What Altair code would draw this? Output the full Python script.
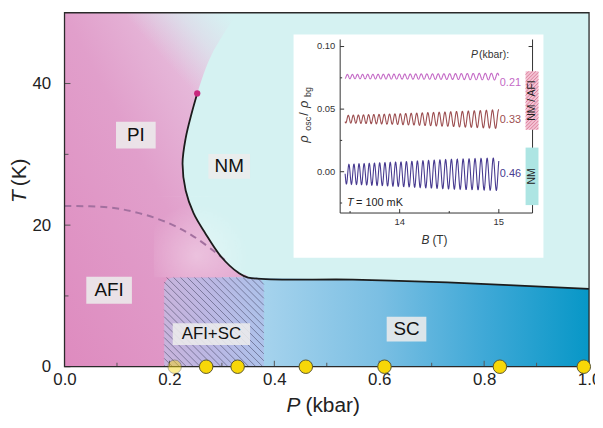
import altair as alt
import numpy as np
import pandas as pd

# ======================= values =======================
P_DOMAIN = [0.0, 1.0]
T_DOMAIN = [0.0, 50.0]
P_TICKS = [0.0, 0.2, 0.4, 0.6, 0.8, 1.0]
P_MINOR = [0.1, 0.3, 0.5, 0.7, 0.9]
T_TICKS = [0, 20, 40]
T_MINOR = [10, 30]

# solid phase boundary (P kbar, T K), from the end point down and to the right
BND_P = [0.253, 0.242, 0.231, 0.225, 0.231, 0.246, 0.268, 0.299, 0.331, 0.350, 0.55, 0.73, 1.0]
BND_T = [38.6, 35.7, 32.3, 28.7, 24.9, 21.7, 18.9, 15.5, 13.3, 12.6, 12.3, 11.9, 11.0]
# fuzzy PI / NM border above the end point
PI_TOP_P = [0.28, 0.33]
PI_TOP_T = [44.0, 50.0]
PI_FOOT_P = 0.30

# dashed AFI line
DASH_P = [0.0, 0.085, 0.142, 0.198, 0.242, 0.287, 0.31]
DASH_T = [22.7, 22.5, 21.7, 20.3, 18.6, 16.2, 14.8]

# AFI+SC coexistence box
AFISC_P = [0.19, 0.38]
AFISC_T = [0.0, 12.6]

# measured pressures (yellow dots)
MEAS_P = [0.21, 0.27, 0.33, 0.46, 0.61, 0.83, 0.99]
MEAS_ALPHA = [0.45, 1, 1, 1, 1, 1, 1]

REGION_LABELS = ["PI", "NM", "AFI", "AFI+SC", "SC"]
REGION_P = [0.136, 0.314, 0.085, 0.28, 0.652]
REGION_T = [32.7, 28.3, 10.8, 4.6, 5.3]

# ---- inset ----
B_DOMAIN = [13.4, 15.34]
RHO_DOMAIN = [-0.033, 0.1056]
B_TICKS = [14, 15]
B_MINOR = [13.5, 14.5]
RHO_TICKS = [0.0, 0.05, 0.10]
RHO_MINOR = [-0.025, 0.025, 0.075]
OSC_NAMES = ["0.21", "0.33", "0.46"]
OSC_COLORS = ["#c46ac6", "#9c4e50", "#473a90"]
OSC_OFFSET = [0.076, 0.042, -0.002]
OSC_ENV_B = [13.45, 14.0, 14.5, 15.0]
OSC_ENV_AMP = [[0.0017, 0.0020, 0.0023, 0.0027],
               [0.0030, 0.0043, 0.0058, 0.0075],
               [0.0078, 0.0098, 0.0118, 0.0130]]
OSC_FREQ = 3600.0
OSC_PHASE = [0.3, 1.4, 2.2]
OSC_B_RANGE = [13.45, 15.0]

# ======================= layout / style =======================
W, H = 529, 357
FONT = "Liberation Sans"
XS = alt.Scale(domain=P_DOMAIN, nice=False, zero=False)
YS = alt.Scale(domain=T_DOMAIN, nice=False, zero=False)
XAX = alt.Axis(values=P_TICKS, format=".1f", title=None, ticks=False, domain=False, grid=False,
               labelFont=FONT, labelFontSize=17, labelColor="#222", labelPadding=5,
               labelFlush=False, labelOverlap=False)
YAX = alt.Axis(values=T_TICKS, format="d", title=None, ticks=False, domain=False, grid=False,
               labelFont=FONT, labelFontSize=17, labelColor="#222", labelPadding=14,
               labelFlush=False, labelOverlap=False)


def X(f):
    return alt.X(f, type="quantitative", scale=XS, axis=XAX)


def Y(f):
    return alt.Y(f, type="quantitative", scale=YS, axis=YAX)


def PX(f):
    return alt.X(f, type="quantitative", scale=None, axis=None)


def PY(f):
    return alt.Y(f, type="quantitative", scale=None, axis=None)


# inset pixel frame (relative to plot origin)
IN_X0, IN_X1, IN_YB, IN_YT = 278, 472, 202, 27
XS_IN = alt.Scale(domain=B_DOMAIN, range=[IN_X0, IN_X1], nice=False, zero=False)
YS_IN = alt.Scale(domain=RHO_DOMAIN, range=[IN_YB, IN_YT], nice=False, zero=False)


def IX(f):
    return alt.X(f, type="quantitative", scale=XS_IN, axis=None)


def IY(f):
    return alt.Y(f, type="quantitative", scale=YS_IN, axis=None)


def grad(stops, x1=0, y1=0, x2=1, y2=0):
    return {"gradient": "linear", "x1": x1, "y1": y1, "x2": x2, "y2": y2,
            "stops": [{"offset": o, "color": c} for o, c in stops]}


def hatch_segments(x0, x1, y0, y1, step, direction):
    segs = []
    if direction > 0:  # "\"  : y = x + c
        for c in np.arange(y0 - x1, y1 - x0 + step, step):
            xa, xb = max(x0, y0 - c), min(x1, y1 - c)
            if xb > xa:
                segs.append((xa, xa + c, xb, xb + c))
    else:  # "/" : y = -x + c
        for c in np.arange(x0 + y0, x1 + y1 + step, step):
            xa, xb = max(x0, c - y1), min(x1, c - y0)
            if xb > xa:
                segs.append((xa, c - xa, xb, c - xb))
    return segs


# ======================= main phase diagram =======================
frame_df = pd.DataFrame({"P0": [P_DOMAIN[0]], "P1": [P_DOMAIN[1]], "T0": [T_DOMAIN[0]], "T1": [T_DOMAIN[1]]})
bg = alt.Chart(frame_df).mark_rect(fill="#d5f2f2").encode(x=X("P0"), x2="P1", y=Y("T0"), y2="T1")

pink_df = pd.DataFrame({"P": [PI_FOOT_P] + BND_P[9::-1] + PI_TOP_P,
                        "T": [0.0] + BND_T[9::-1] + PI_TOP_T})
pink_df["P0"] = 0.0
pink = alt.Chart(pink_df).mark_area(
    orient="horizontal", interpolate="catmull-rom",
    fill=grad([(0, "#de8bbf"), (0.5, "#e19fcb"), (1, "#ebd3e9")], x1=0, y1=1, x2=1, y2=0)
).encode(y=Y("T"), x=X("P"), x2="P0")

# soft PI -> NM fade above the end point (diagonal, transparent at lower left)
fade_df = pd.DataFrame({"P0": [0.12], "P1": [0.36], "T0": [30.0], "T1": [T_DOMAIN[1]]})
fade = alt.Chart(fade_df).mark_rect(
    fill=grad([(0, "rgba(213,242,242,0)"), (0.48, "rgba(213,242,242,0)"),
               (0.7, "rgba(213,242,242,0.6)"), (0.9, "rgba(213,242,242,1)"),
               (1, "rgba(213,242,242,1)")], x1=0, y1=1, x2=1, y2=0)
).encode(x=X("P0"), x2="P1", y=Y("T0"), y2="T1")

patch_df = pd.DataFrame({"P0": [0.17], "P1": [0.35], "T0": [12.6], "T1": [24.0]})
patch = alt.Chart(patch_df).mark_rect(
    fill={"gradient": "radial", "x1": 0.45, "y1": 0.7, "r1": 0, "x2": 0.45, "y2": 0.7, "r2": 0.55,
          "stops": [{"offset": 0, "color": "rgba(255,255,255,0.35)"},
                    {"offset": 1, "color": "rgba(255,255,255,0)"}]}
).encode(x=X("P0"), x2="P1", y=Y("T0"), y2="T1")

sc_df = pd.DataFrame({"P": [PI_FOOT_P] + BND_P[9:], "T": [BND_T[9]] + BND_T[9:]})
sc_df["T0"] = 0.0
sc = alt.Chart(sc_df).mark_area(
    fill=grad([(0, "#b4daf0"), (0.14, "#a2d1ec"), (0.43, "#7bbfe3"), (0.71, "#40a9d7"), (1, "#0797c7")])
).encode(x=X("P"), y=Y("T"), y2="T0")

box_df = pd.DataFrame({"P0": [AFISC_P[0]], "P1": [AFISC_P[1]], "T0": [AFISC_T[0]], "T1": [AFISC_T[1]]})
afisc = alt.Chart(box_df).mark_rect(
    fill=grad([(0, "#c8b4dc"), (0.5, "#bab8e4"), (1, "#aec2ea")]),
    cornerRadiusTopLeft=9, cornerRadiusTopRight=9).encode(
    x=X("P0"), x2="P1", y=Y("T1"), y2="T0")

segs = hatch_segments(AFISC_P[0] * W, AFISC_P[1] * W,
                      H - AFISC_T[1] / T_DOMAIN[1] * H, H - AFISC_T[0] / T_DOMAIN[1] * H, 7, +1)
hatch_df = pd.DataFrame([{"xa": a / W, "ya": (H - b) / H * T_DOMAIN[1],
                          "xb": c / W, "yb": (H - d) / H * T_DOMAIN[1]} for a, b, c, d in segs])
hatch = alt.Chart(hatch_df).mark_rule(color="#3c3c5a", strokeWidth=0.8, opacity=0.65).encode(
    x=X("xa"), y=Y("ya"), x2="xb", y2="yb")

dash = alt.Chart(pd.DataFrame({"P": DASH_P, "T": DASH_T})).mark_line(
    interpolate="catmull-rom", strokeDash=[7, 5], color="#a3709f", strokeWidth=2).encode(x=X("P"), y=Y("T"))

bnd = alt.Chart(pd.DataFrame({"P": BND_P, "T": BND_T, "i": range(len(BND_P))})).mark_line(
    interpolate="catmull-rom", color="#1c1c1c", strokeWidth=1.8).encode(
    x=X("P"), y=Y("T"), order="i:Q")

cep = alt.Chart(pd.DataFrame({"P": [BND_P[0]], "T": [BND_T[0]]})).mark_point(
    filled=True, size=40, color="#c8287e", opacity=1).encode(x=X("P"), y=Y("T"))

xt_major = alt.Chart(pd.DataFrame({"P": P_TICKS})).mark_rule(color="#555", strokeWidth=1).encode(
    x=X("P"), y=alt.value(H), y2=alt.value(H - 6))
xt_minor = alt.Chart(pd.DataFrame({"P": P_MINOR})).mark_rule(color="#555", strokeWidth=1).encode(
    x=X("P"), y=alt.value(H), y2=alt.value(H - 4))
yt_major = alt.Chart(pd.DataFrame({"T": T_TICKS})).mark_rule(color="#555", strokeWidth=1).encode(
    y=Y("T"), x=alt.value(0), x2=alt.value(6))
yt_minor = alt.Chart(pd.DataFrame({"T": T_MINOR})).mark_rule(color="#555", strokeWidth=1).encode(
    y=Y("T"), x=alt.value(0), x2=alt.value(4))

frame = alt.Chart(frame_df).mark_rect(filled=False, stroke="#2a2a2a", strokeWidth=1.3).encode(
    x=X("P0"), x2="P1", y=Y("T0"), y2="T1")

BOX_W = [40, 42, 46, 78, 40]
BOX_H = [27, 25, 27, 22, 25]
LAB_FS = [19, 19, 19, 17, 19]
label_layers = []
for name, p, t, bw, bh, fs in zip(REGION_LABELS, REGION_P, REGION_T, BOX_W, BOX_H, LAB_FS):
    d = pd.DataFrame({"P": [p], "T": [t], "lab": [name]})
    label_layers.append(alt.Chart(d).mark_rect(width=bw, height=bh, fill="#ececec", opacity=0.88).encode(
        x=X("P"), y=Y("T")))
    label_layers.append(alt.Chart(d).mark_text(font=FONT, fontSize=fs, color="#111", baseline="middle").encode(
        x=X("P"), y=Y("T"), text="lab:N"))

dots = alt.Chart(pd.DataFrame({"P": MEAS_P, "T": [0.0] * len(MEAS_P), "a": MEAS_ALPHA})).mark_point(
    filled=True, shape="circle", size=185, fill="#f7d708", stroke="#5a5630", strokeWidth=1).encode(
    x=X("P"), y=Y("T"), opacity=alt.Opacity("a:Q", scale=None, legend=None))

main = alt.layer(bg, pink, fade, patch, sc, afisc, hatch, dash, bnd, cep,
                 xt_major, xt_minor, yt_major, yt_minor, frame, *label_layers, dots)

# ======================= pixel-placed background of the inset =======================
inset_bg = alt.Chart(pd.DataFrame({"x0": [231], "x1": [483], "y0": [22], "y1": [247]})).mark_rect(
    fill="#ffffff").encode(x=PX("x0"), x2="x1", y=PY("y0"), y2="y1")

# ======================= inset =======================
B = np.linspace(OSC_B_RANGE[0], OSC_B_RANGE[1], 900)
rows = []
for name, off, amps, ph in zip(OSC_NAMES, OSC_OFFSET, OSC_ENV_AMP, OSC_PHASE):
    amp = np.interp(B, OSC_ENV_B, amps)
    rho = off + amp * np.sin(2 * np.pi * OSC_FREQ / B + ph)
    rows.append(pd.DataFrame({"B": B, "rho": rho, "s": name}))
osc_df = pd.concat(rows)
osc = alt.Chart(osc_df).mark_line(strokeWidth=1.1).encode(
    x=IX("B"), y=IY("rho"),
    color=alt.Color("s:N", scale=alt.Scale(domain=OSC_NAMES, range=OSC_COLORS), legend=None))

ax_left = alt.Chart(pd.DataFrame({"B": [B_DOMAIN[0], B_DOMAIN[1]], "r0": [RHO_DOMAIN[0]] * 2,
                                  "r1": [RHO_DOMAIN[1]] * 2})).mark_rule(color="#333", strokeWidth=1).encode(
    x=IX("B"), y=IY("r0"), y2="r1")
ax_bot = alt.Chart(pd.DataFrame({"B0": [B_DOMAIN[0]], "B1": [B_DOMAIN[1]], "r": [RHO_DOMAIN[0]]})).mark_rule(
    color="#333", strokeWidth=1).encode(x=IX("B0"), x2="B1", y=IY("r"))
it_y = alt.Chart(pd.DataFrame({"r": RHO_TICKS})).mark_rule(color="#333").encode(
    y=IY("r"), x=alt.value(IN_X0), x2=alt.value(IN_X0 + 4))
it_y2 = alt.Chart(pd.DataFrame({"r": RHO_TICKS})).mark_rule(color="#333").encode(
    y=IY("r"), x=alt.value(IN_X1), x2=alt.value(IN_X1 - 4))
it_ym = alt.Chart(pd.DataFrame({"r": RHO_MINOR})).mark_rule(color="#333").encode(
    y=IY("r"), x=alt.value(IN_X0), x2=alt.value(IN_X0 + 2))
it_x = alt.Chart(pd.DataFrame({"B": B_TICKS})).mark_rule(color="#333").encode(
    x=IX("B"), y=alt.value(IN_YB), y2=alt.value(IN_YB - 4))
it_xm = alt.Chart(pd.DataFrame({"B": B_MINOR})).mark_rule(color="#333").encode(
    x=IX("B"), y=alt.value(IN_YB), y2=alt.value(IN_YB - 2))
il_y = alt.Chart(pd.DataFrame({"r": RHO_TICKS, "t": [f"{v:.2f}" for v in RHO_TICKS]})).mark_text(
    font=FONT, fontSize=9.5, color="#333", align="right", baseline="middle").encode(
    y=IY("r"), x=alt.value(IN_X0 - 5), text="t:N")
il_x = alt.Chart(pd.DataFrame({"B": B_TICKS, "t": [str(v) for v in B_TICKS]})).mark_text(
    font=FONT, fontSize=9.5, color="#333", baseline="middle").encode(
    x=IX("B"), y=alt.value(IN_YB + 9), text="t:N")

inset = alt.layer(ax_left, ax_bot, it_y, it_y2, it_ym, it_x, it_xm, il_y, il_x, osc)

# ======================= pixel-placed annotations =======================
def ptext(items, **kw):
    d = pd.DataFrame(items, columns=["x", "y", "t"])
    return alt.Chart(d).mark_text(font=FONT, baseline="middle", **kw).encode(
        x=PX("x"), y=PY("y"), text="t:N")


ann = []
# main axis titles
ann.append(ptext([(-45, 179, "T")], fontSize=21, fontStyle="italic", angle=270, align="right", color="#222"))
ann.append(ptext([(-45, 175, "(K)")], fontSize=21, angle=270, align="left", color="#222"))
ann.append(ptext([(238, 397, "P")], fontSize=21, fontStyle="italic", align="right", color="#222"))
ann.append(ptext([(243, 397, "(kbar)")], fontSize=21, align="left", color="#222"))

# inset titles
ann.append(ptext([(242, 131, "ρ"), (242, 96, "ρ")], fontSize=13, fontStyle="italic", angle=270,
                 align="left", color="#333"))
ann.append(ptext([(246, 119, "osc"), (246, 85, "bg")], fontSize=9, angle=270, align="left", color="#333"))
ann.append(ptext([(242, 104, "/")], fontSize=13, angle=270, align="left", color="#333"))
ann.append(ptext([(368, 229, "B")], fontSize=12, fontStyle="italic", align="right", color="#333"))
ann.append(ptext([(371, 229, "(T)")], fontSize=12, align="left", color="#333"))
ann.append(ptext([(410, 43, "P")], fontSize=10.5, fontStyle="italic", align="left", color="#333"))
ann.append(ptext([(418, 43, "(kbar):")], fontSize=10.5, align="left", color="#333"))
ann.append(ptext([(285, 192, "T")], fontSize=11, fontStyle="italic", align="left", color="#222"))
ann.append(ptext([(294, 192, "= 100 mK")], fontSize=11, align="left", color="#222"))
for (ly, name, col) in zip([71, 108, 163], OSC_NAMES, OSC_COLORS):
    ann.append(ptext([(439, ly, name)], fontSize=11, align="left", color=col))

# side boxes
SB_X0, SB_X1 = 465, 478
ann.append(alt.Chart(pd.DataFrame({"x0": [SB_X0], "x1": [SB_X1], "y0": [59], "y1": [118]})).mark_rect(
    fill="#f3c3d3").encode(x=PX("x0"), x2="x1", y=PY("y0"), y2="y1"))
sb_segs = hatch_segments(SB_X0, SB_X1, 59, 118, 3.5, -1)
sb_df = pd.DataFrame(sb_segs, columns=["xa", "ya", "xb", "yb"])
ann.append(alt.Chart(sb_df).mark_rule(color="#d66d8f", strokeWidth=0.8).encode(
    x=PX("xa"), y=PY("ya"), x2="xb", y2="yb"))
ann.append(alt.Chart(pd.DataFrame({"x0": [SB_X0], "x1": [SB_X1], "y0": [136], "y1": [194]})).mark_rect(
    fill="#ade5e3").encode(x=PX("x0"), x2="x1", y=PY("y0"), y2="y1"))
ann.append(ptext([((SB_X0 + SB_X1) / 2, 88.5, "NM / AFI"), ((SB_X0 + SB_X1) / 2, 165, "NM")],
                 fontSize=10.5, angle=270, align="center", color="#222"))

pix_fg = alt.layer(*ann)

chart = alt.layer(main, inset_bg, inset, pix_fg).resolve_scale(
    x="independent", y="independent", color="independent", opacity="independent"
).properties(
    width=W, height=H,
    autosize=alt.AutoSizeParams(type="none"),
    padding={"left": 57, "top": 3, "right": 6, "bottom": 57},
    background="#ffffff",
).configure_view(stroke="transparent")

chart.save("out.html", embed_options={"renderer": "svg", "actions": False})
